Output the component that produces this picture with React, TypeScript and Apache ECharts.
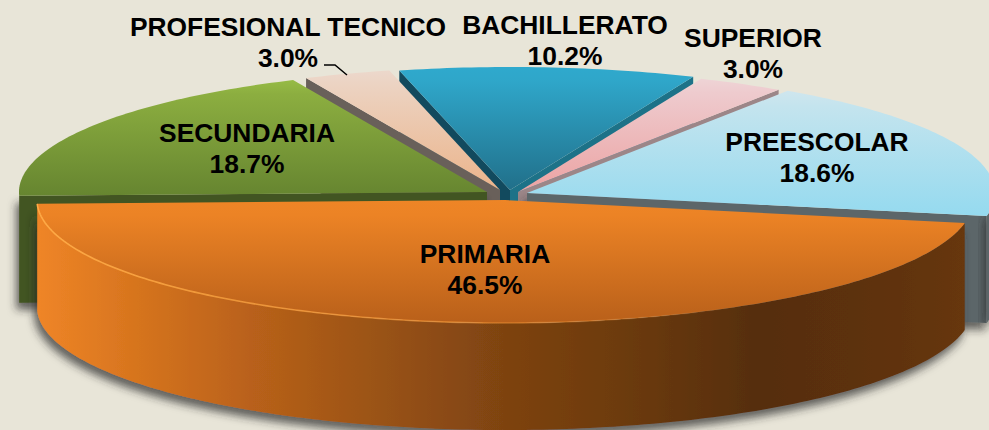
import React, { useEffect, useRef } from "react";
import * as echarts from "echarts";

const categories = ["PRIMARIA", "SECUNDARIA", "PROFESIONAL TECNICO", "BACHILLERATO", "SUPERIOR", "PREESCOLAR"];
const shares = [46.5, 18.7, 3.0, 10.2, 3.0, 18.6];

// layout
const W = 989, H = 430;
const START_ANGLE = 10.8;
const RX = 468, RY = 123, DEPTH = 107;
const centers = [[505, 200], [487, 192], [500, 190], [510, 190], [518, 192], [527, 193]];
const paintRank = [6, 3, 2, 1, 2, 3];
const labelPos = [[485, 269], [247, 148], [288, 42], [565, 40], [753, 53], [817, 157]];
const topStops = [
  ["#ee8526", "#ec8325", "#b9601a"],
  ["#96bb45", "#8cae40", "#668530"],
  ["#ecd8cc", "#ecd3c2", "#ebb48b"],
  ["#2fa9cd", "#2fa6c9", "#21708a"],
  ["#eed4d6", "#eecbce", "#eca3a3"],
  ["#cfe6ee", "#c4e4ee", "#95daef"],
];
const startFace = [null, "#435420", "#69605a", "#124a5e", null, null];
const endFace = [null, null, null, "#1d7288", "#9c8688", "#5c6669"];
const castsShadow = [true, true, false, false, false, true];
const rimStops: any[] = [
  [[0, "#ef8527"], [0.095, "#d9761f"], [0.23, "#b9611a"], [0.367, "#9a5315"], [0.503, "#7e4311"], [0.64, "#6b3a0f"], [0.776, "#562e0b"], [0.878, "#5c300d"], [1, "#67370f"]],
  [[0, "#435420"], [1, "#435420"]],
  null,
  null,
  null,
  [[0, "#5c6669"], [1, "#5c6669"]],
];
const leaderPoints = [[324, 65], [335, 65], [347, 75]];

const total = shares.reduce((a, b) => a + b, 0);
const rad = (d: number) => (d * Math.PI) / 180;

function sliceAngles(i: number) {
  let t = START_ANGLE;
  for (let k = 0; k < i; k++) t += (shares[k] / total) * 360;
  return [t, t + (shares[i] / total) * 360];
}
function arc(c: number[], a: number, b: number, dy = 0) {
  const pts: number[][] = [];
  const n = Math.max(2, Math.ceil(Math.abs(b - a)));
  for (let k = 0; k <= n; k++) {
    const t = rad(a + ((b - a) * k) / n);
    pts.push([c[0] + RX * Math.cos(t), c[1] + RY * Math.sin(t) + dy]);
  }
  return pts;
}
const vGrad = (s: string[]) =>
  new echarts.graphic.LinearGradient(0, 0, 0, 1, [
    { offset: 0, color: s[0] },
    { offset: 0.12, color: s[1] },
    { offset: 1, color: s[2] },
  ]);
const shadowStyle = { shadowBlur: 8, shadowColor: "rgba(40,40,40,0.7)", shadowOffsetX: -3, shadowOffsetY: 7 };

function renderItem(params: any) {
  const i = params.dataIndex;
  const c = centers[i];
  const [a, b] = sliceAngles(i);
  const z = paintRank[i] * 10;
  const shadow = castsShadow[i] ? shadowStyle : {};
  const children: any[] = [];
  const face = (t: number, color: string) => {
    const p = arc(c, t, t + 0.001)[0];
    children.push({
      type: "polygon",
      z2: z,
      shape: { points: [c, p, [p[0], p[1] + DEPTH], [c[0], c[1] + DEPTH]] },
      style: { fill: color, ...shadow },
    });
  };
  if (startFace[i]) face(a, startFace[i] as string);
  if (endFace[i]) face(b, endFace[i] as string);
  if (rimStops[i]) {
    const lo = Math.sin(rad(a)) > 0 ? a : Math.sin(rad(b)) > 0 && b > 360 ? 360 : a;
    const hi = Math.min(b, i === 1 ? 180 : b);
    const top = arc(c, lo, hi);
    const bottom = arc(c, hi, lo, DEPTH);
    children.push({
      type: "polygon",
      z2: z + 1,
      shape: { points: [...top, ...bottom] },
      style: {
        fill: new echarts.graphic.LinearGradient(0, 0, 1, 0, rimStops[i].map((s: any) => ({ offset: s[0], color: s[1] }))),
        ...shadow,
      },
    });
  }
  children.push({
    type: "polygon",
    z2: z + 2,
    shape: { points: [c, ...arc(c, a, b)] },
    style: { fill: vGrad(topStops[i]) },
  });
  if (i === 0) {
    children.push({
      type: "polyline",
      z2: z + 3,
      shape: { points: arc(c, b, 60) },
      style: {
        fill: "none",
        lineWidth: 1.6,
        stroke: new echarts.graphic.LinearGradient(0, 0, 1, 0, [
          { offset: 0, color: "rgba(255,170,70,1)" },
          { offset: 0.6, color: "rgba(255,160,60,0.5)" },
          { offset: 1, color: "rgba(255,160,60,0)" },
        ]),
      },
    });
  }
  children.push({
    type: "text",
    z2: 1000,
    x: labelPos[i][0],
    y: labelPos[i][1],
    style: {
      text: `${categories[i]}\n${shares[i].toFixed(1)}%`,
      font: 'bold 26.4px "Liberation Sans"',
      lineHeight: 31,
      fill: "#000",
      textAlign: "center",
      textVerticalAlign: "middle",
    },
  });
  if (categories[i] === "PROFESIONAL TECNICO") {
    children.push({
      type: "polyline",
      z2: 1000,
      shape: { points: leaderPoints },
      style: { fill: "none", stroke: "#000", lineWidth: 1.5 },
    });
  }
  return { type: "group", children };
}

export default function App() {
  const ref = useRef<HTMLDivElement>(null);
  useEffect(() => {
    const chart = echarts.init(ref.current!, null, { renderer: "svg" });
    chart.setOption({
      animation: false,
      backgroundColor: "#e8e5d8",
      series: [
        {
          type: "custom",
          coordinateSystem: "none",
          silent: true,
          renderItem,
          data: shares.map((v, i) => ({ name: categories[i], value: [v] })),
        },
      ],
    });
    return () => chart.dispose();
  }, []);
  return <div ref={ref} style={{ position: "fixed", left: 0, top: 0, width: W, height: H }} />;
}
